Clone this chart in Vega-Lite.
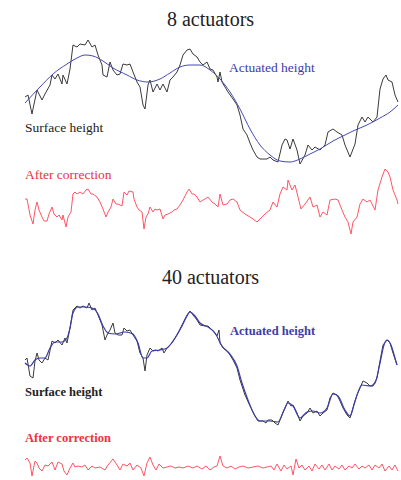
{
  "$schema": "https://vega.github.io/schema/vega-lite/v6.json",
  "padding": {"left": 0, "right": 0, "top": 10, "bottom": 0},
  "spacing": 31,
  "background": "white",
  "config": {
    "view": {"stroke": null},
    "axis": {"disable": true},
    "title": {"font": "Liberation Serif", "fontSize": 20, "fontWeight": "normal", "color": "#222222", "dx": 10, "anchor": "middle"},
    "text": {"font": "Liberation Serif"}
  },
  "datasets": {
    "s8": [
      {"x":25,"h":140},{"x":28,"h":142},{"x":32,"h":123},{"x":33,"h":128},{"x":37,"h":147},{"x":39,"h":143},{"x":42,"h":137},{"x":45,"h":143},{"x":50,"h":152},{"x":52,"h":162},{"x":55,"h":158},{"x":58,"h":163},{"x":62,"h":153},{"x":63,"h":162},{"x":67,"h":153},{"x":70,"h":168},{"x":73,"h":192},{"x":77,"h":190},{"x":80,"h":193},{"x":85,"h":192},{"x":88,"h":197},{"x":92,"h":190},{"x":95,"h":192},{"x":98,"h":182},{"x":102,"h":172},{"x":103,"h":162},{"x":107,"h":160},{"x":110,"h":175},{"x":113,"h":167},{"x":117,"h":162},{"x":120,"h":163},{"x":123,"h":173},{"x":127,"h":172},{"x":130,"h":173},{"x":133,"h":165},{"x":137,"h":155},{"x":140,"h":150},{"x":143,"h":132},{"x":145,"h":128},{"x":148,"h":152},{"x":150,"h":157},{"x":153,"h":145},{"x":157,"h":153},{"x":160,"h":147},{"x":163,"h":153},{"x":167,"h":145},{"x":170,"h":157},{"x":173,"h":160},{"x":177,"h":165},{"x":180,"h":172},{"x":183,"h":182},{"x":187,"h":187},{"x":190,"h":188},{"x":193,"h":183},{"x":197,"h":180},{"x":200,"h":175},{"x":203,"h":172},{"x":207,"h":175},{"x":210,"h":168},{"x":213,"h":167},{"x":217,"h":160},{"x":218,"h":155},{"x":220,"h":165},{"x":222,"h":155},{"x":225,"h":150},{"x":228,"h":145},{"x":233,"h":138},{"x":237,"h":132},{"x":240,"h":122},{"x":243,"h":108},{"x":247,"h":102},{"x":250,"h":94},{"x":253,"h":87},{"x":257,"h":80},{"x":260,"h":78},{"x":263,"h":78},{"x":267,"h":78},{"x":270,"h":80},{"x":273,"h":77},{"x":278,"h":75},{"x":282,"h":92},{"x":285,"h":98},{"x":287,"h":97},{"x":290,"h":88},{"x":293,"h":98},{"x":297,"h":87},{"x":300,"h":73},{"x":305,"h":82},{"x":308,"h":92},{"x":312,"h":87},{"x":315,"h":90},{"x":320,"h":87},{"x":325,"h":92},{"x":328,"h":105},{"x":333,"h":108},{"x":337,"h":105},{"x":342,"h":102},{"x":345,"h":92},{"x":350,"h":80},{"x":355,"h":93},{"x":358,"h":112},{"x":362,"h":120},{"x":365,"h":115},{"x":368,"h":120},{"x":373,"h":115},{"x":377,"h":120},{"x":380,"h":148},{"x":383,"h":158},{"x":386,"h":162},{"x":388,"h":157},{"x":392,"h":155},{"x":395,"h":142},{"x":398,"h":135}
    ],
    "a8": [
      {"x":25,"h":134},{"x":40,"h":150},{"x":53,"h":163},{"x":67,"h":173},{"x":77,"h":179},{"x":85,"h":182},{"x":93,"h":181},{"x":103,"h":176},{"x":113,"h":169},{"x":127,"h":162},{"x":137,"h":157},{"x":148,"h":155},{"x":160,"h":158},{"x":170,"h":164},{"x":180,"h":170},{"x":190,"h":172},{"x":200,"h":172},{"x":210,"h":167},{"x":220,"h":158},{"x":230,"h":145},{"x":240,"h":128},{"x":250,"h":108},{"x":260,"h":92},{"x":270,"h":82},{"x":280,"h":76},{"x":290,"h":75},{"x":300,"h":78},{"x":310,"h":83},{"x":320,"h":88},{"x":333,"h":96},{"x":345,"h":102},{"x":353,"h":106},{"x":367,"h":112},{"x":380,"h":119},{"x":390,"h":125},{"x":398,"h":132}
    ],
    "c8": [
      {"x":25,"h":38},{"x":27,"h":38},{"x":30,"h":22},{"x":33,"h":13},{"x":35,"h":27},{"x":37,"h":35},{"x":39,"h":27},{"x":42,"h":20},{"x":44,"h":16},{"x":47,"h":16},{"x":49,"h":23},{"x":52,"h":30},{"x":54,"h":23},{"x":57,"h":20},{"x":59,"h":22},{"x":62,"h":17},{"x":63,"h":22},{"x":66,"h":10},{"x":68,"h":20},{"x":71,"h":25},{"x":73,"h":43},{"x":75,"h":45},{"x":77,"h":43},{"x":80,"h":45},{"x":83,"h":43},{"x":86,"h":47},{"x":88,"h":48},{"x":91,"h":43},{"x":93,"h":43},{"x":97,"h":40},{"x":100,"h":35},{"x":103,"h":28},{"x":106,"h":20},{"x":108,"h":25},{"x":111,"h":30},{"x":113,"h":38},{"x":116,"h":33},{"x":118,"h":33},{"x":122,"h":31},{"x":124,"h":45},{"x":127,"h":42},{"x":129,"h":46},{"x":133,"h":45},{"x":134,"h":38},{"x":137,"h":30},{"x":139,"h":27},{"x":142,"h":25},{"x":144,"h":8},{"x":146,"h":20},{"x":148,"h":23},{"x":150,"h":30},{"x":153,"h":25},{"x":155,"h":28},{"x":157,"h":27},{"x":160,"h":28},{"x":163,"h":18},{"x":165,"h":22},{"x":168,"h":23},{"x":172,"h":25},{"x":174,"h":27},{"x":177,"h":28},{"x":180,"h":32},{"x":183,"h":37},{"x":187,"h":45},{"x":189,"h":48},{"x":192,"h":43},{"x":194,"h":43},{"x":197,"h":40},{"x":200,"h":35},{"x":203,"h":37},{"x":205,"h":38},{"x":208,"h":40},{"x":212,"h":35},{"x":215,"h":33},{"x":218,"h":30},{"x":220,"h":43},{"x":223,"h":32},{"x":227,"h":33},{"x":230,"h":37},{"x":233,"h":38},{"x":237,"h":35},{"x":240,"h":27},{"x":245,"h":23},{"x":250,"h":20},{"x":253,"h":18},{"x":257,"h":15},{"x":260,"h":18},{"x":265,"h":23},{"x":270,"h":27},{"x":273,"h":35},{"x":277,"h":30},{"x":280,"h":43},{"x":283,"h":50},{"x":287,"h":47},{"x":288,"h":57},{"x":292,"h":47},{"x":295,"h":52},{"x":298,"h":40},{"x":301,"h":28},{"x":305,"h":33},{"x":310,"h":40},{"x":313,"h":30},{"x":317,"h":32},{"x":320,"h":20},{"x":323,"h":25},{"x":327,"h":22},{"x":330,"h":37},{"x":335,"h":38},{"x":338,"h":37},{"x":342,"h":27},{"x":345,"h":20},{"x":348,"h":15},{"x":351,"h":3},{"x":353,"h":15},{"x":357,"h":20},{"x":360,"h":33},{"x":363,"h":38},{"x":367,"h":35},{"x":370,"h":37},{"x":375,"h":27},{"x":378,"h":47},{"x":382,"h":60},{"x":385,"h":68},{"x":388,"h":65},{"x":390,"h":60},{"x":393,"h":47},{"x":397,"h":37},{"x":398,"h":33}
    ],
    "s40": [
      {"x":25,"h":118},{"x":27,"h":120},{"x":30,"h":102},{"x":33,"h":100},{"x":35,"h":117},{"x":37,"h":125},{"x":39,"h":118},{"x":42,"h":115},{"x":45,"h":120},{"x":48,"h":118},{"x":52,"h":137},{"x":55,"h":135},{"x":58,"h":138},{"x":62,"h":133},{"x":65,"h":140},{"x":67,"h":135},{"x":70,"h":150},{"x":73,"h":168},{"x":77,"h":172},{"x":80,"h":170},{"x":83,"h":172},{"x":87,"h":170},{"x":89,"h":175},{"x":92,"h":168},{"x":95,"h":170},{"x":98,"h":163},{"x":102,"h":153},{"x":105,"h":138},{"x":107,"h":143},{"x":110,"h":148},{"x":113,"h":155},{"x":115,"h":145},{"x":118,"h":143},{"x":122,"h":143},{"x":124,"h":150},{"x":127,"h":147},{"x":130,"h":148},{"x":133,"h":143},{"x":137,"h":137},{"x":140,"h":125},{"x":143,"h":120},{"x":145,"h":107},{"x":147,"h":123},{"x":150,"h":130},{"x":153,"h":127},{"x":155,"h":128},{"x":158,"h":127},{"x":162,"h":130},{"x":164,"h":125},{"x":167,"h":130},{"x":172,"h":135},{"x":177,"h":143},{"x":182,"h":153},{"x":187,"h":163},{"x":190,"h":167},{"x":193,"h":163},{"x":197,"h":158},{"x":200,"h":153},{"x":205,"h":152},{"x":208,"h":152},{"x":213,"h":147},{"x":217,"h":142},{"x":219,"h":148},{"x":220,"h":135},{"x":223,"h":130},{"x":227,"h":127},{"x":230,"h":123},{"x":233,"h":118},{"x":237,"h":110},{"x":240,"h":98},{"x":245,"h":83},{"x":250,"h":72},{"x":255,"h":62},{"x":258,"h":57},{"x":263,"h":57},{"x":266,"h":55},{"x":268,"h":58},{"x":272,"h":58},{"x":275,"h":55},{"x":278,"h":53},{"x":282,"h":63},{"x":285,"h":70},{"x":288,"h":77},{"x":291,"h":72},{"x":293,"h":73},{"x":297,"h":65},{"x":300,"h":57},{"x":303,"h":62},{"x":307,"h":65},{"x":310,"h":70},{"x":313,"h":65},{"x":317,"h":67},{"x":320,"h":62},{"x":323,"h":65},{"x":327,"h":68},{"x":330,"h":80},{"x":333,"h":85},{"x":337,"h":83},{"x":340,"h":77},{"x":343,"h":70},{"x":347,"h":63},{"x":350,"h":60},{"x":353,"h":70},{"x":357,"h":83},{"x":360,"h":90},{"x":363,"h":97},{"x":367,"h":95},{"x":370,"h":92},{"x":373,"h":92},{"x":377,"h":100},{"x":380,"h":117},{"x":383,"h":133},{"x":387,"h":138},{"x":390,"h":135},{"x":393,"h":125},{"x":397,"h":113}
    ],
    "a40": [
      {"x":25,"h":115},{"x":30,"h":112},{"x":35,"h":118},{"x":40,"h":120},{"x":45,"h":120},{"x":50,"h":130},{"x":55,"h":136},{"x":62,"h":136},{"x":67,"h":140},{"x":70,"h":150},{"x":73,"h":165},{"x":78,"h":171},{"x":85,"h":171},{"x":92,"h":170},{"x":98,"h":164},{"x":103,"h":152},{"x":108,"h":145},{"x":115,"h":144},{"x":125,"h":146},{"x":133,"h":144},{"x":138,"h":135},{"x":143,"h":120},{"x":147,"h":120},{"x":152,"h":127},{"x":160,"h":128},{"x":167,"h":130},{"x":175,"h":140},{"x":182,"h":152},{"x":187,"h":162},{"x":190,"h":166},{"x":195,"h":162},{"x":200,"h":155},{"x":208,"h":151},{"x":215,"h":145},{"x":222,"h":132},{"x":230,"h":124},{"x":237,"h":112},{"x":242,"h":95},{"x":248,"h":78},{"x":255,"h":62},{"x":260,"h":57},{"x":270,"h":57},{"x":278,"h":56},{"x":284,"h":68},{"x":288,"h":75},{"x":293,"h":72},{"x":300,"h":60},{"x":307,"h":66},{"x":313,"h":67},{"x":320,"h":65},{"x":327,"h":70},{"x":333,"h":84},{"x":338,"h":82},{"x":345,"h":68},{"x":350,"h":62},{"x":355,"h":77},{"x":362,"h":93},{"x":370,"h":92},{"x":375,"h":95},{"x":380,"h":115},{"x":384,"h":133},{"x":387,"h":138},{"x":391,"h":133},{"x":395,"h":120},{"x":397,"h":113}
    ],
    "c40": [
      {"x":25,"h":18},{"x":27,"h":20},{"x":30,"h":15},{"x":32,"h":2},{"x":35,"h":17},{"x":37,"h":15},{"x":39,"h":10},{"x":42,"h":7},{"x":45,"h":13},{"x":48,"h":12},{"x":52,"h":16},{"x":55,"h":8},{"x":58,"h":16},{"x":62,"h":14},{"x":64,"h":7},{"x":67,"h":3},{"x":70,"h":10},{"x":73,"h":15},{"x":75,"h":11},{"x":78,"h":12},{"x":82,"h":11},{"x":85,"h":13},{"x":88,"h":8},{"x":92,"h":12},{"x":95,"h":10},{"x":100,"h":11},{"x":105,"h":8},{"x":108,"h":13},{"x":113,"h":19},{"x":117,"h":13},{"x":120,"h":8},{"x":123,"h":14},{"x":127,"h":12},{"x":130,"h":15},{"x":133,"h":8},{"x":137,"h":13},{"x":141,"h":10},{"x":144,"h":2},{"x":147,"h":15},{"x":150,"h":21},{"x":153,"h":13},{"x":156,"h":8},{"x":159,"h":14},{"x":163,"h":10},{"x":167,"h":11},{"x":171,"h":12},{"x":175,"h":10},{"x":179,"h":11},{"x":183,"h":10},{"x":188,"h":12},{"x":193,"h":10},{"x":197,"h":12},{"x":202,"h":9},{"x":206,"h":12},{"x":210,"h":8},{"x":214,"h":11},{"x":217,"h":12},{"x":220,"h":22},{"x":223,"h":12},{"x":227,"h":10},{"x":231,"h":12},{"x":235,"h":9},{"x":239,"h":11},{"x":243,"h":12},{"x":248,"h":10},{"x":253,"h":11},{"x":258,"h":12},{"x":263,"h":10},{"x":267,"h":11},{"x":271,"h":12},{"x":274,"h":8},{"x":277,"h":14},{"x":281,"h":7},{"x":284,"h":13},{"x":287,"h":9},{"x":291,"h":12},{"x":293,"h":3},{"x":296,"h":19},{"x":299,"h":10},{"x":302,"h":13},{"x":305,"h":8},{"x":309,"h":12},{"x":312,"h":7},{"x":315,"h":14},{"x":319,"h":9},{"x":322,"h":13},{"x":325,"h":8},{"x":329,"h":14},{"x":332,"h":8},{"x":335,"h":12},{"x":339,"h":9},{"x":342,"h":13},{"x":345,"h":8},{"x":349,"h":12},{"x":352,"h":10},{"x":355,"h":14},{"x":359,"h":9},{"x":362,"h":12},{"x":365,"h":10},{"x":369,"h":13},{"x":372,"h":8},{"x":375,"h":13},{"x":379,"h":10},{"x":382,"h":14},{"x":385,"h":7},{"x":389,"h":12},{"x":392,"h":8},{"x":395,"h":13},{"x":398,"h":7}
    ]
  },
  "vconcat": [
    {
      "title": {"text": "8 actuators", "dy": 2},
      "width": 401,
      "height": 205,
      "layer": [
        {"data": {"name": "s8"}, "mark": {"type": "line", "color": "#3a3a3a", "strokeWidth": 1},
         "encoding": {"x": {"field": "x", "type": "quantitative", "scale": {"domain": [0, 401], "nice": false, "zero": false}}, "y": {"field": "h", "type": "quantitative", "scale": {"domain": [0, 205], "nice": false}}}},
        {"data": {"name": "a8"}, "mark": {"type": "line", "color": "#4848B8", "strokeWidth": 1, "interpolate": "monotone"},
         "encoding": {"x": {"field": "x", "type": "quantitative"}, "y": {"field": "h", "type": "quantitative"}}},
        {"data": {"name": "c8"}, "mark": {"type": "line", "color": "#FF5566", "strokeWidth": 1},
         "encoding": {"x": {"field": "x", "type": "quantitative"}, "y": {"field": "h", "type": "quantitative"}}},
        {"data": {"values": [{}]}, "mark": {"type": "text", "align": "left", "baseline": "alphabetic", "fontSize": 13.5, "color": "#3C3CA8"},
         "encoding": {"x": {"datum": 229, "type": "quantitative"}, "y": {"datum": 165, "type": "quantitative"}, "text": {"value": "Actuated height"}}},
        {"data": {"values": [{}]}, "mark": {"type": "text", "align": "left", "baseline": "alphabetic", "fontSize": 13.5, "color": "#222222"},
         "encoding": {"x": {"datum": 25, "type": "quantitative"}, "y": {"datum": 105, "type": "quantitative"}, "text": {"value": "Surface height"}}},
        {"data": {"values": [{}]}, "mark": {"type": "text", "align": "left", "baseline": "alphabetic", "fontSize": 13.5, "color": "#F03040"},
         "encoding": {"x": {"datum": 25, "type": "quantitative"}, "y": {"datum": 58, "type": "quantitative"}, "text": {"value": "After correction"}}}
      ]
    },
    {
      "title": {"text": "40 actuators", "dy": 6},
      "width": 401,
      "height": 192,
      "layer": [
        {"data": {"name": "s40"}, "mark": {"type": "line", "color": "#3a3a3a", "strokeWidth": 1},
         "encoding": {"x": {"field": "x", "type": "quantitative", "scale": {"domain": [0, 401], "nice": false, "zero": false}}, "y": {"field": "h", "type": "quantitative", "scale": {"domain": [0, 192], "nice": false}}}},
        {"data": {"name": "a40"}, "mark": {"type": "line", "color": "#3C3CAA", "strokeWidth": 1.2, "interpolate": "monotone"},
         "encoding": {"x": {"field": "x", "type": "quantitative"}, "y": {"field": "h", "type": "quantitative"}}},
        {"data": {"name": "c40"}, "mark": {"type": "line", "color": "#FF5566", "strokeWidth": 1},
         "encoding": {"x": {"field": "x", "type": "quantitative"}, "y": {"field": "h", "type": "quantitative"}}},
        {"data": {"values": [{}]}, "mark": {"type": "text", "align": "left", "baseline": "alphabetic", "fontSize": 12.5, "fontWeight": "bold", "color": "#3C3CA8"},
         "encoding": {"x": {"datum": 230, "type": "quantitative"}, "y": {"datum": 143, "type": "quantitative"}, "text": {"value": "Actuated height"}}},
        {"data": {"values": [{}]}, "mark": {"type": "text", "align": "left", "baseline": "alphabetic", "fontSize": 12.5, "fontWeight": "bold", "color": "#222222"},
         "encoding": {"x": {"datum": 25, "type": "quantitative"}, "y": {"datum": 82, "type": "quantitative"}, "text": {"value": "Surface height"}}},
        {"data": {"values": [{}]}, "mark": {"type": "text", "align": "left", "baseline": "alphabetic", "fontSize": 12.5, "fontWeight": "bold", "color": "#F03040"},
         "encoding": {"x": {"datum": 25, "type": "quantitative"}, "y": {"datum": 36, "type": "quantitative"}, "text": {"value": "After correction"}}}
      ]
    }
  ]
}
